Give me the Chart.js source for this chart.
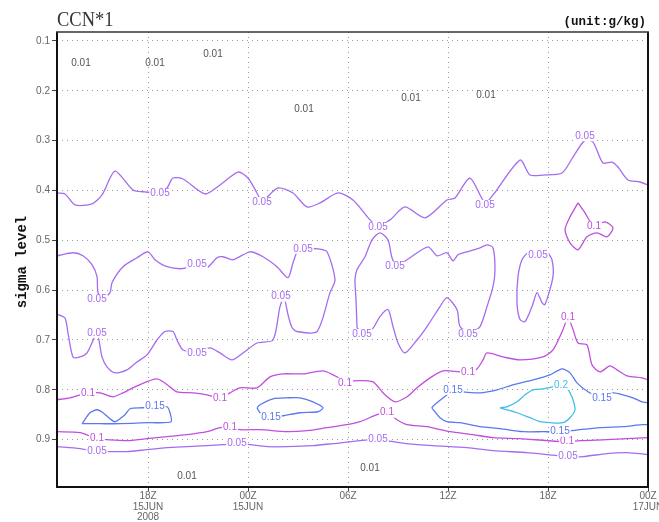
<!DOCTYPE html>
<html>
<head>
<meta charset="utf-8">
<script src="https://cdn.jsdelivr.net/npm/chart.js@4.4.1/dist/chart.umd.min.js"></script>
<style>
  html, body { margin: 0; padding: 0; background: #fff; }
  #wrap { position: relative; width: 659px; height: 522px; }
</style>
</head>
<body>
<div id="wrap"><canvas id="c" width="659" height="522"></canvas></div>
<script>
// Time axis in hours after 12Z 15JUN 2008; vertical axis in sigma levels.
const xRange = [0.54, 36];
const yRange = [0.082, 0.995];
const xTickHours = [6, 12, 18, 24, 30, 36];
const xTickLabels = [['18Z', '15JUN', '2008'], ['00Z', '15JUN'], ['06Z'], ['12Z'], ['18Z'], ['00Z', '17JUN']];
const yTickLevels = [0.1, 0.2, 0.3, 0.4, 0.5, 0.6, 0.7, 0.8, 0.9];

// Contour lines of CCN (g/kg), each a list of [hour, sigma] vertices.
const ccn005Upper = [[0.54,0.405],[1.02,0.407],[1.62,0.429],[2.64,0.427],[3.24,0.409],[4.02,0.361],[5.10,0.399],[5.82,0.403],[6.72,0.405],[7.14,0.395],[7.50,0.375],[8.10,0.377],[9.42,0.407],[10.32,0.389],[11.40,0.363],[12.00,0.375],[12.54,0.405],[12.84,0.421],[13.80,0.395],[14.70,0.405],[15.54,0.433],[16.32,0.425],[17.40,0.405],[18.30,0.419],[19.32,0.459],[19.80,0.471],[20.52,0.459],[21.42,0.433],[22.62,0.455],[23.94,0.419],[24.42,0.415],[25.32,0.375],[26.22,0.425],[26.70,0.409],[28.32,0.339],[28.92,0.369],[29.70,0.369],[30.84,0.365],[31.50,0.333],[32.22,0.299],[32.70,0.303],[33.30,0.345],[33.84,0.343],[34.20,0.353],[34.80,0.379],[35.52,0.383],[36.00,0.389]];
const ccn005Tongue = [[0.54,0.531],[1.50,0.525],[2.10,0.531],[2.64,0.549],[2.94,0.573],[3.00,0.605],[3.30,0.617],[3.72,0.605],[3.84,0.585],[4.50,0.553],[5.34,0.535],[6.00,0.523],[6.42,0.539],[7.14,0.553],[8.04,0.557],[8.94,0.551],[9.54,0.555],[10.14,0.535],[10.50,0.533],[11.10,0.539],[12.12,0.523],[12.90,0.533],[13.74,0.553],[14.40,0.575],[14.70,0.545],[15.00,0.519],[15.30,0.517],[16.20,0.517],[16.74,0.523],[17.22,0.579],[16.92,0.605],[16.14,0.683],[14.94,0.683],[14.64,0.675],[14.40,0.649],[14.16,0.615],[13.92,0.633],[13.50,0.700],[12.54,0.706],[11.70,0.726],[11.04,0.740],[10.32,0.726],[9.72,0.716],[8.94,0.724],[8.10,0.720],[7.74,0.700],[7.50,0.683],[7.02,0.683],[6.54,0.700],[5.94,0.730],[5.34,0.744],[4.74,0.760],[4.02,0.766],[3.54,0.754],[3.24,0.734],[2.94,0.688],[2.34,0.726],[1.92,0.734],[1.50,0.734],[1.20,0.686],[1.02,0.656],[0.60,0.649],[0.54,0.651]];
const ccn005Cell = [[18.54,0.675],[18.48,0.619],[18.42,0.579],[18.54,0.559],[19.02,0.533],[19.44,0.499],[19.92,0.485],[20.40,0.499],[20.64,0.535],[20.94,0.551],[21.54,0.539],[22.80,0.513],[23.34,0.531],[23.94,0.525],[24.30,0.541],[24.60,0.529],[25.14,0.523],[25.92,0.515],[26.34,0.509],[26.70,0.515],[26.82,0.559],[26.70,0.593],[26.34,0.633],[25.92,0.673],[25.32,0.685],[24.72,0.673],[24.54,0.639],[23.94,0.615],[23.52,0.633],[22.74,0.673],[22.14,0.700],[21.42,0.726],[21.00,0.706],[20.70,0.673],[20.40,0.639],[19.92,0.653],[19.44,0.679],[18.84,0.687],[18.54,0.675]];
const ccn005Small = [[30.00,0.525],[29.40,0.523],[28.80,0.525],[28.44,0.539],[28.20,0.573],[28.14,0.625],[28.32,0.659],[28.62,0.663],[29.04,0.633],[29.34,0.605],[29.64,0.625],[29.82,0.629],[30.30,0.573],[30.24,0.539],[30.00,0.525]];
const ccn005Low = [[0.54,0.914],[1.92,0.918],[2.94,0.924],[3.72,0.924],[4.74,0.924],[5.94,0.920],[7.14,0.916],[8.34,0.914],[9.54,0.912],[10.50,0.910],[11.34,0.908],[12.12,0.910],[13.14,0.914],[14.34,0.914],[15.90,0.912],[17.10,0.908],[18.72,0.902],[19.80,0.900],[20.70,0.904],[21.54,0.908],[23.10,0.912],[25.14,0.916],[26.70,0.922],[28.74,0.926],[29.94,0.930],[31.20,0.934],[32.10,0.934],[33.54,0.928],[34.74,0.926],[36.00,0.930]];
const ccn010Upper = [[0.54,0.820],[1.32,0.816],[2.40,0.806],[3.12,0.806],[3.90,0.814],[4.50,0.806],[5.34,0.792],[6.54,0.778],[7.32,0.794],[7.74,0.804],[8.70,0.806],[9.54,0.810],[10.32,0.816],[10.92,0.806],[11.52,0.796],[12.54,0.796],[13.32,0.774],[14.10,0.768],[15.30,0.768],[16.50,0.762],[17.34,0.774],[17.82,0.786],[18.30,0.782],[19.50,0.784],[20.10,0.806],[20.82,0.824],[21.54,0.814],[22.14,0.796],[22.92,0.776],[23.70,0.762],[24.72,0.764],[25.20,0.764],[25.74,0.758],[26.10,0.740],[26.34,0.726],[27.30,0.734],[28.32,0.740],[29.70,0.734],[30.30,0.720],[30.90,0.679],[31.20,0.655],[31.50,0.679],[31.80,0.706],[32.34,0.710],[32.64,0.750],[33.12,0.764],[33.72,0.752],[34.14,0.760],[34.74,0.772],[35.64,0.776],[36.00,0.780]];
const ccn010Cell = [[31.80,0.425],[31.32,0.453],[31.02,0.479],[31.32,0.505],[31.80,0.519],[32.34,0.493],[32.94,0.485],[33.54,0.493],[33.90,0.475],[33.42,0.463],[32.70,0.469],[32.22,0.445],[31.80,0.425]];
const ccn010Low = [[0.54,0.884],[1.92,0.886],[2.94,0.898],[3.54,0.900],[4.74,0.902],[5.94,0.898],[7.14,0.894],[8.34,0.890],[9.54,0.884],[10.32,0.876],[10.92,0.876],[11.52,0.880],[12.72,0.880],[14.34,0.884],[15.54,0.882],[16.74,0.876],[17.94,0.870],[18.72,0.864],[19.74,0.850],[20.34,0.846],[20.94,0.860],[21.54,0.870],[22.74,0.874],[24.12,0.884],[25.50,0.890],[26.70,0.896],[28.32,0.898],[29.94,0.902],[31.14,0.904],[31.92,0.902],[33.54,0.900],[34.74,0.898],[36.00,0.896]];
const ccn015West = [[2.04,0.868],[2.52,0.846],[2.94,0.840],[3.30,0.846],[3.72,0.858],[4.02,0.864],[4.62,0.850],[4.92,0.838],[5.70,0.836],[6.42,0.834],[7.14,0.834],[7.32,0.846],[7.38,0.864],[6.12,0.866],[4.32,0.868],[3.12,0.868],[2.04,0.868]];
const ccn015Mid = [[12.54,0.836],[12.72,0.830],[13.50,0.818],[14.34,0.816],[15.12,0.816],[15.90,0.824],[16.50,0.836],[16.20,0.844],[15.12,0.846],[14.10,0.852],[13.32,0.856],[12.72,0.846],[12.54,0.836]];
const ccn015East = [[36.00,0.826],[35.64,0.824],[35.10,0.816],[34.50,0.810],[33.90,0.806],[33.24,0.816],[32.40,0.804],[31.74,0.786],[31.32,0.766],[30.84,0.758],[30.12,0.770],[29.10,0.780],[27.90,0.790],[26.94,0.800],[25.92,0.806],[24.90,0.804],[24.24,0.800],[23.94,0.810],[23.34,0.826],[23.04,0.836],[23.22,0.844],[23.52,0.856],[23.94,0.864],[24.72,0.866],[25.92,0.874],[27.12,0.878],[28.50,0.884],[29.70,0.884],[30.72,0.884],[31.92,0.880],[33.12,0.876],[34.50,0.874],[35.64,0.870],[36.00,0.870]];
const ccn020Core = [[31.14,0.796],[30.72,0.792],[29.70,0.798],[29.10,0.800],[28.62,0.810],[28.14,0.824],[27.54,0.834],[27.12,0.836],[27.54,0.840],[28.14,0.846],[28.92,0.856],[29.52,0.864],[30.12,0.866],[30.90,0.866],[31.32,0.856],[31.62,0.840],[31.50,0.820],[31.32,0.806],[31.14,0.796]];

// Contour label anchor points [hour, sigma] per level.
const labels001 = [[1.98,0.144],[6.42,0.144],[9.90,0.126],[15.36,0.238],[21.78,0.214],[26.28,0.208],[8.34,0.974],[19.32,0.958]];
const labels005 = [[6.72,0.405],[12.84,0.423],[19.80,0.473],[26.22,0.429],[32.22,0.291],[2.94,0.619],[8.94,0.549],[15.30,0.517],[13.98,0.613],[8.94,0.726],[2.94,0.686],[18.84,0.688],[20.82,0.553],[25.20,0.688],[29.40,0.529],[2.94,0.924],[11.34,0.908],[19.80,0.900],[31.20,0.934]];
const labels010 = [[2.40,0.806],[10.32,0.816],[17.82,0.786],[25.20,0.764],[31.20,0.655],[32.76,0.471],[2.94,0.898],[10.92,0.876],[20.34,0.846],[31.14,0.904]];
const labels015 = [[6.42,0.832],[13.38,0.856],[24.30,0.800],[33.24,0.816],[30.72,0.884]];
const labels020 = [[30.78,0.790]];

const levelColor = { 0.01: '#555555', 0.05: '#a46cef', 0.1: '#c04fdc', 0.15: '#5b78ef', 0.2: '#3fbde9' };

const contours = [
  [0.05, ccn005Upper], [0.05, ccn005Tongue], [0.05, ccn005Cell], [0.05, ccn005Small], [0.05, ccn005Low],
  [0.1, ccn010Upper], [0.1, ccn010Cell], [0.1, ccn010Low],
  [0.15, ccn015West], [0.15, ccn015Mid], [0.15, ccn015East],
  [0.2, ccn020Core]
];
const contourLabels = [[0.01, labels001], [0.05, labels005], [0.1, labels010], [0.15, labels015], [0.2, labels020]];

const datasets = contours.map(([level, pts]) => ({
  label: String(level),
  data: pts.map(p => ({ x: p[0], y: p[1] })),
  showLine: true,
  borderColor: levelColor[level],
  borderWidth: 1.3,
  pointRadius: 0,
  tension: 0.25,
  fill: false
}));

// Draws the contour value labels with a white gap, the frame and the texts.
const decorations = {
  id: 'decorations',
  afterDatasetsDraw(chart) {
    const { ctx, scales: { x, y }, chartArea: a } = chart;
    ctx.save();
    ctx.font = '10px "Liberation Sans", Arial, sans-serif';
    ctx.textAlign = 'center';
    ctx.textBaseline = 'middle';
    contourLabels.forEach(([level, pts]) => {
      const txt = String(level);
      const w = ctx.measureText(txt).width;
      pts.forEach(p => {
        const px = x.getPixelForValue(p[0]);
        const py = y.getPixelForValue(p[1]);
        if (level !== 0.01) {
          ctx.fillStyle = '#ffffff';
          ctx.fillRect(px - w / 2 - 1, py - 5, w + 2, 10);
        }
        ctx.fillStyle = levelColor[level];
        ctx.fillText(txt, px, py);
      });
    });
    // frame
    ctx.strokeStyle = '#111';
    ctx.lineWidth = 2;
    ctx.beginPath();
    ctx.moveTo(a.left, a.top);
    ctx.lineTo(a.left, a.bottom);
    ctx.lineTo(a.right, a.bottom);
    ctx.lineTo(a.right, a.top);
    ctx.stroke();
    ctx.lineWidth = 1.5;
    ctx.strokeStyle = '#333';
    ctx.beginPath();
    ctx.moveTo(a.left - 1, a.top);
    ctx.lineTo(a.right + 1, a.top);
    ctx.stroke();
    ctx.restore();
  },
  afterDraw(chart) {
    const { ctx } = chart;
    ctx.save();
    // title
    ctx.fillStyle = '#333';
    ctx.textBaseline = 'alphabetic';
    ctx.textAlign = 'left';
    ctx.translate(57, 26);
    ctx.scale(0.84, 1);
    ctx.font = '22px "Liberation Serif", "DejaVu Serif", serif';
    ctx.fillText('CCN*1', 0, 0);
    ctx.restore();
    ctx.save();
    ctx.fillStyle = '#111';
    ctx.font = 'bold 12.5px "Liberation Mono", "DejaVu Sans Mono", monospace';
    ctx.textAlign = 'right';
    ctx.textBaseline = 'alphabetic';
    ctx.fillText('(unit:g/kg)', 646, 25);
    // vertical axis title
    ctx.translate(22, 262);
    ctx.rotate(-Math.PI / 2);
    ctx.textAlign = 'center';
    ctx.textBaseline = 'middle';
    ctx.font = 'bold 14px "Liberation Mono", "DejaVu Sans Mono", monospace';
    ctx.fillText('sigma level', 0, 0);
    ctx.restore();
  }
};

const tickFont = { family: '"Liberation Sans", Arial, sans-serif', size: 10, lineHeight: 1.05 };

new Chart(document.getElementById('c'), {
  type: 'scatter',
  data: { datasets },
  options: {
    responsive: false,
    animation: false,
    devicePixelRatio: 1,
    layout: { padding: { top: 32, right: 11, bottom: 0, left: 0 } },
    plugins: { legend: { display: false }, tooltip: { enabled: false } },
    scales: {
      x: {
        type: 'linear',
        min: xRange[0],
        max: xRange[1],
        afterBuildTicks: s => { s.ticks = xTickHours.map(v => ({ value: v })); },
        afterFit: s => { s.height = 35; s.paddingLeft = 0; s.paddingRight = 0; },
        ticks: {
          autoSkip: false,
          maxRotation: 0,
          padding: 0,
          color: '#666',
          font: tickFont,
          callback: (v, i) => xTickLabels[i]
        },
        grid: {
          color: '#9a9a9a',
          lineWidth: 1,
          drawTicks: true,
          tickLength: 4,
          tickColor: '#444',
          tickBorderDash: []
        },
        border: { display: false, dash: [1, 4] }
      },
      y: {
        type: 'linear',
        reverse: true,
        min: yRange[0],
        max: yRange[1],
        afterBuildTicks: s => { s.ticks = yTickLevels.map(v => ({ value: v })); },
        afterFit: s => { s.width = 57; },
        ticks: {
          padding: 2,
          color: '#666',
          font: tickFont,
          callback: v => String(Math.round(v * 10) / 10)
        },
        grid: {
          color: '#9a9a9a',
          lineWidth: 1,
          drawTicks: true,
          tickLength: 5,
          tickColor: '#444',
          tickBorderDash: []
        },
        border: { display: false, dash: [1, 4] }
      }
    }
  },
  plugins: [decorations]
});
</script>
</body>
</html>
